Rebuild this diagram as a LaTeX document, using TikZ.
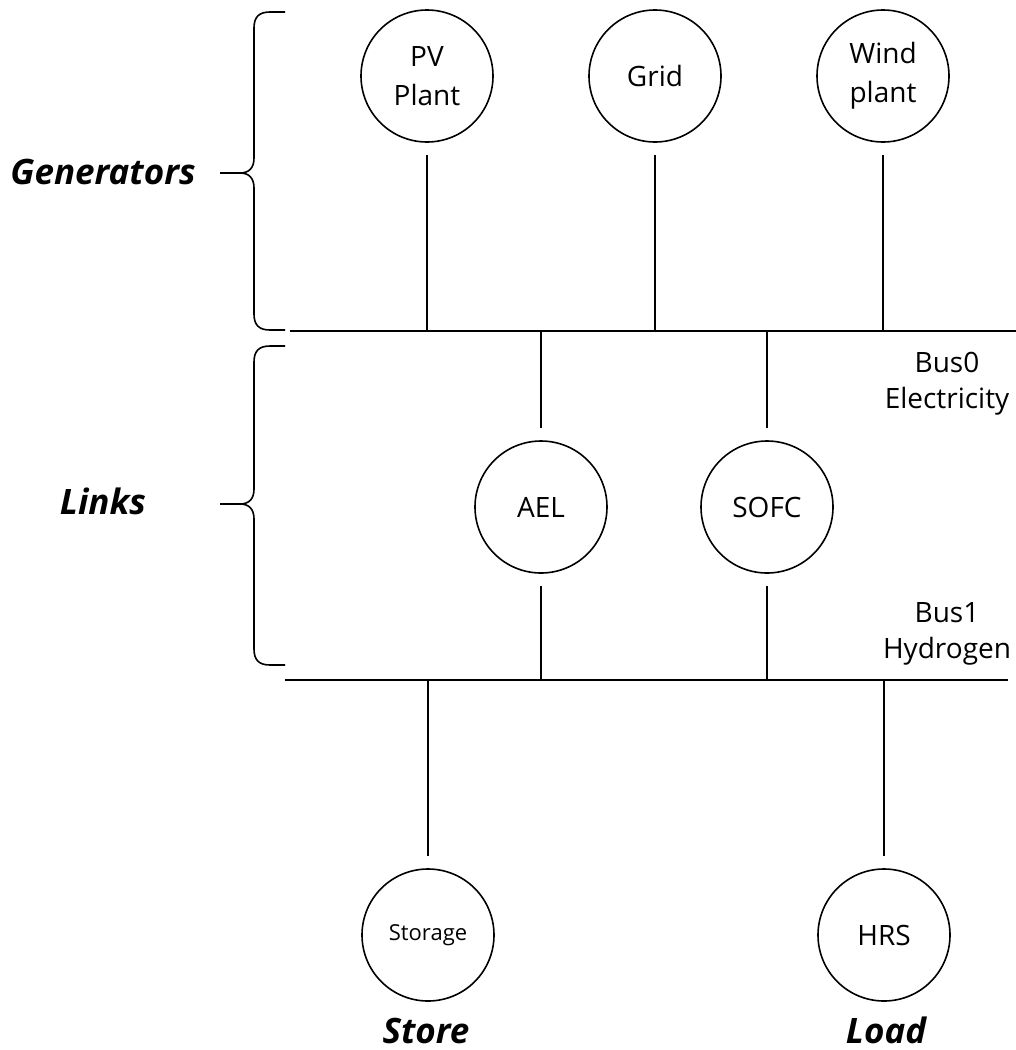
\documentclass[tikz,border=0pt]{standalone}
\usepackage{fontspec}
\setmainfont{Open Sans}
\begin{document}
\begin{tikzpicture}[x=1pt,y=-1pt,
  line width=1.6pt,
  unit/.style={circle,draw,minimum size=132pt,inner sep=0pt,align=center,
    font=\fontsize{28}{39}\selectfont},
  buslabel/.style={align=center,anchor=base,font=\fontsize{28}{36}\selectfont},
  grouplabel/.style={anchor=base,font=\fontsize{35}{40}\selectfont\bfseries\itshape},
  conn/.style={shorten <=12pt},
  brace/.style={line width=1.6pt,line join=round}
]
\useasboundingbox (0,0) rectangle (1016,1050);

% buses
\coordinate (b0w) at (290,331);
\coordinate (b0e) at (1016,331);
\coordinate (b1w) at (285,680);
\coordinate (b1e) at (1008,680);
\draw (b0w) -- (b0e);
\draw (b1w) -- (b1e);

% generators
\node[unit] (pv) at (427,76) {PV\\Plant};
\node[unit] (grid) at (655,76) {Grid};
\node[unit] (wind) at (883,76) {Wind\\plant};
% links
\node[unit] (ael) at (541,507) {AEL};
\node[unit] (sofc) at (767,507) {SOFC};
% store / load
\node[unit,font=\fontsize{22}{26}\selectfont] (sto) at (428,935) {Storage};
\node[unit] (hrs) at (884,935) {HRS};

% connectors
\draw[conn] (pv) -- (pv |- b0w);
\draw[conn] (grid) -- (grid |- b0w);
\draw[conn] (wind) -- (wind |- b0w);
\draw[conn] (ael) -- (ael |- b0w);
\draw[conn] (sofc) -- (sofc |- b0w);
\draw[conn] (ael) -- (ael |- b1w);
\draw[conn] (sofc) -- (sofc |- b1w);
\draw[conn] (sto) -- (sto |- b1w);
\draw[conn] (hrs) -- (hrs |- b1w);

% bus labels
\node[buslabel] (bus0) at (947,408) {Bus0\\Electricity};
\node[buslabel] (bus1) at (947,658) {Bus1\\Hydrogen};

% group labels
\node[grouplabel] (gen) at (103,184) {Generators};
\node[grouplabel] (lnk) at (103,514) {Links};
\node[grouplabel] (store) at (426,1043) {Store};
\node[grouplabel] (load) at (886,1043) {Load};

% braces
\draw[brace] (285,12) -- (270,12) .. controls (259,12) and (254,17) .. (254,28)
  -- (254,158) .. controls (254,168) and (249,173) .. (240,173)
  .. controls (249,173) and (254,178) .. (254,188)
  -- (254,314) .. controls (254,325) and (259,330) .. (270,330) -- (285,330);
\draw[brace] (240,173) -- (220,173);
\draw[brace] (285,346) -- (270,346) .. controls (259,346) and (254,351) .. (254,362)
  -- (254,489) .. controls (254,499) and (249,504) .. (240,504)
  .. controls (249,504) and (254,509) .. (254,519)
  -- (254,649) .. controls (254,660) and (259,665) .. (270,665) -- (285,665);
\draw[brace] (240,504) -- (220,504);
\end{tikzpicture}
\end{document}
